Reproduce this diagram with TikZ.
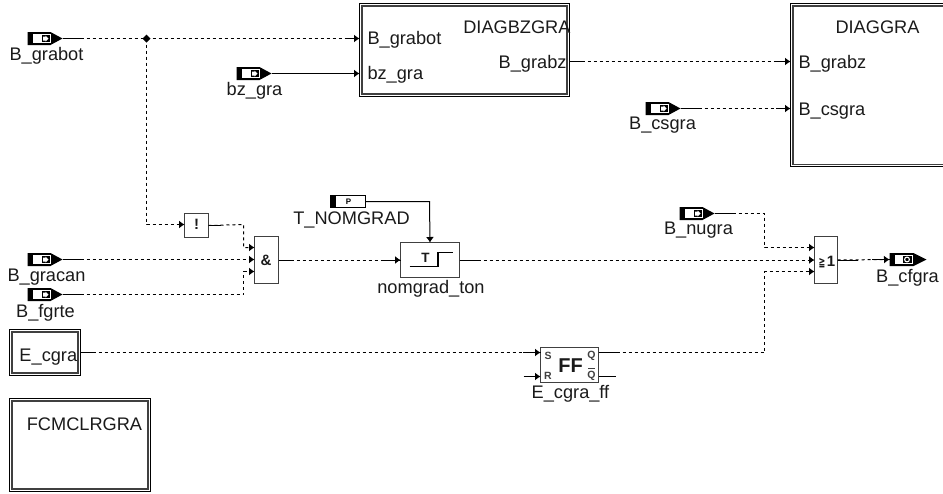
\documentclass[tikz,border=0pt]{standalone}
\usepackage{fontspec}
\setmainfont{Liberation Sans}
\newfontfamily\symfont{DejaVu Sans}
\usetikzlibrary{arrows.meta,calc}
\definecolor{inkc}{HTML}{1A1A1A}
\definecolor{boxc}{HTML}{404040}
\newcommand{\lbl}{\fontsize{18.2}{20}\selectfont}
\tikzset{
  x=1pt,y=-1pt,
  every node/.style={inner sep=0pt,outer sep=0pt,text=inkc},
  txt/.style={font=\lbl,anchor=center},
  sig/.style={line width=1pt,draw=black,dash pattern=on 3pt off 3pt,-{Latex[length=5.5pt,width=8pt]}},
  sigend/.style={line width=1pt,draw=black,dash pattern=on 3pt off 3pt},
  stub/.style={line width=1pt,draw=black},
  plain/.style={line width=1pt,draw=black,-{Latex[length=5.5pt,width=8pt]}},
  logicbox/.style={draw=boxc,line width=1.2pt,fill=white,minimum width=#1,anchor=north west},
  dblinner/.style={draw=boxc,line width=1.5pt},
  portbody/.style={minimum width=35pt,minimum height=12pt,anchor=west},
  ffpin/.style={font=\bfseries\fontsize{10.5}{10.5}\selectfont,text=boxc},
}
% input port: name, left x, centre y
\newcommand{\inport}[3]{%
  \node[portbody] (#1) at (#2,#3) {};
  \fill[black] (#2,#3-6.5) -- ++(23,0) -- (#2+35,#3) -- (#2+23,#3+6.5) -- (#2,#3+6.5) -- cycle;
  \fill[white] (#2+5.5,#3-4.5) rectangle (#2+23,#3+4.5);
  \fill[black] (#2+14,#3-3.8) rectangle (#2+22,#3+3.8);
  \fill[white] (#2+15.5,#3-2) -- ++(2.5,0) -- ++(0,-1) -- (#2+21,#3) -- (#2+18,#3+3) -- ++(0,-1) -- ++(-2.5,0) -- cycle;
}
\begin{document}
\begin{tikzpicture}
\useasboundingbox (0,0) rectangle (943,493);
\clip (0,0) rectangle (943,493);
\begin{scope}[shift={(0.5,0.5)}]

% double-frame blocks
\node[draw=black,line width=1pt,minimum width=210pt,minimum height=93pt,anchor=north west] (diagbz) at (359,3) {};
\draw[dblinner] (361.5,5.5) rectangle (566.5,93.5);
\node[draw=black,line width=1pt,minimum width=170pt,minimum height=163pt,anchor=north west] (diaggra) at (790,3) {};
\draw[dblinner] (792.5,5.5) rectangle (957,164);
\node[draw=black,line width=1pt,minimum width=71pt,minimum height=46pt,anchor=north west] (ecgra) at (9,329) {};
\draw[dblinner] (11.5,331.5) rectangle (77.5,372.5);
\node[draw=black,line width=1pt,minimum width=141pt,minimum height=93pt,anchor=north west] (fcm) at (9,398) {};
\draw[dblinner] (11.5,400.5) rectangle (147.5,488.5);

% logic blocks
\node[logicbox=24pt,minimum height=24pt] (notb) at (184,213) {};
\node[logicbox=24pt,minimum height=47pt] (andb) at (254,236) {};
\node[logicbox=59pt,minimum height=35pt] (ton) at (400,242) {};
\node[logicbox=58pt,minimum height=35pt] (ffb) at (540,347) {};
\node[logicbox=23pt,minimum height=47pt] (orb) at (814,236) {};

% ports
\inport{pgrabot}{27}{38}
\inport{pbzgra}{236}{73}
\inport{pcsgra}{645}{108}
\inport{pgracan}{27}{259}
\inport{pfgrte}{27}{294}
\inport{pnugra}{679}{213}

% parameter port
\node[portbody] (pnom) at (330,201) {};
\draw[black,line width=1pt,fill=white] (330,195) rectangle (365,207);
\fill[black] (330,195) rectangle (335,207);
\node[font=\bfseries\fontsize{8}{8}\selectfont,text=black] (pnomicon) at (348,201) {P};

% output port
\node[portbody] (pcfgra) at (889,259) {};
\fill[black] (889,252.5) -- ++(24,0) -- (926,259) -- (913,265.5) -- (889,265.5) -- cycle;
\fill[white] (894,254.5) rectangle (912,263.5);
\fill[black] (902,255.2) rectangle (911,262.8);
\draw[white,line width=1.1pt] (906.5,259) circle (2.4pt);

% junction and bends
\coordinate (jn) at (146,38);
\coordinate (nb) at (146,224);
\coordinate (a1) at (243,224);
\coordinate (a2) at (243,247);
\coordinate (a3) at (243,294);
\coordinate (a4) at (243,271);
\coordinate (o1) at (764,213);
\coordinate (o2) at (764,247);
\coordinate (o3) at (764,352);
\coordinate (o4) at (764,271);
\coordinate (nomb) at (429,201);
\coordinate (rin) at (523,376);
\coordinate (qbar) at (615,376);

% connectors
\draw[sigend] (pgrabot.east) -- (jn);
\draw[sig] (jn) -- (jn -| diagbz.west);
\draw[sig] (jn) -- (nb) -- (nb -| notb.west);
\draw[plain] (pbzgra.east) -- (pbzgra.east -| diagbz.west);
\draw[sig] (diagbz.east |- 0,61) -- (diaggra.west |- 0,61);
\draw[sig] (pcsgra.east) -- (pcsgra.east -| diaggra.west);
\draw[sig] (notb.east) -- (a1) -- (a2) -- (a2 -| andb.west);
\draw[sig] (pgracan.east) -- (pgracan.east -| andb.west);
\draw[sig] (pfgrte.east) -- (a3) -- (a4) -- (a4 -| andb.west);
\draw[sig] (andb.east) -- (andb.east -| ton.west);
\draw[plain] (pnom.east) -- (nomb) -- (ton.north);
\draw[sig] (ton.east |- andb.east) -- (andb.east -| orb.west);
\draw[sig] (pnugra.east) -- (o1) -- (o2) -- (o2 -| orb.west);
\draw[sig] (ecgra.east |- 0,352) -- (ffb.west |- 0,352);
\draw[plain] (rin) -- (rin -| ffb.west);
\draw[sig] (ffb.east |- 0,352) -- (o3) -- (o4) -- (o4 -| orb.west);
\draw[stub] (ffb.east |- 0,376) -- (qbar);
\draw[sig] (orb.east |- andb.east) -- (pcfgra.west);

% solid stubs over the dashed lines
\draw[stub] (pgrabot.east) -- ++(19,0);
\draw[stub] (pcsgra.east) -- ++(19,0);
\draw[stub] (pgracan.east) -- ++(19,0);
\draw[stub] (pfgrte.east) -- ++(19,0);
\draw[stub] (pnugra.east) -- ++(19,0);
\draw[stub] (notb.east) -- ++(12,0);
\draw[stub] (ton.east |- andb.east) -- ++(20,0);
\draw[stub] (ton.west |- andb.east) -- ++(-18,0);
\draw[stub] (andb.east) -- ++(12,0);
\draw[stub] (ffb.east |- 0,352) -- ++(20,0);
\draw[stub] (ffb.west |- 0,352) -- ++(-18,0);
\draw[stub] (orb.east |- andb.east) -- ++(20,0);
\draw[stub] (pcfgra.west) -- ++(-18,0);
\draw[stub] (diagbz.east |- 0,61) -- ++(15,0);
\draw[stub] (ecgra.east |- 0,352) -- ++(12,0);
\draw[stub] (diagbz.west |- jn) -- ++(-15,0);
\draw[stub] (diaggra.west |- 0,61) -- ++(-15,0);
\draw[stub] (diaggra.west |- 0,108) -- ++(-15,0);

% junction dot
\fill[black] (146,34) -- (150,38) -- (146,42) -- (142,38) -- cycle;

% port labels
\node[txt] (tgrabot) at (46,55) {B\_grabot};
\node[txt] (tbzgra) at (254,90) {bz\_gra};
\node[txt] (tcsgra) at (662,125) {B\_csgra};
\node[txt] (tgracan) at (46,277) {B\_gracan};
\node[txt] (tfgrte) at (45,312) {B\_fgrte};
\node[txt] (tnom) at (351,219) {T\_NOMGRAD};
\node[txt] (tton) at (430.5,288) {nomgrad\_ton};
\node[txt] (tnugra) at (698,230) {B\_nugra};
\node[txt] (tcfgra) at (907,277) {B\_cfgra};
\node[txt] (tff) at (570,393) {E\_cgra\_ff};

% block texts
\node[txt,anchor=base west] (i1) at (367,44) {B\_grabot};
\node[txt,anchor=base west] (i2) at (367,79) {bz\_gra};
\node[txt,anchor=base east] (i3) at (570,33) {DIAGBZGRA};
\node[txt,anchor=base east] (i4) at (566,68) {B\_grabz};
\node[txt,anchor=base] (i5) at (877,33) {DIAGGRA};
\node[txt,anchor=base west] (i6) at (798,68) {B\_grabz};
\node[txt,anchor=base west] (i7) at (798,115) {B\_csgra};
\node[txt,anchor=base west] (i8) at (19,361) {E\_cgra};
\node[txt,anchor=base] (i9) at (84,430) {FCMCLRGRA};

% logic symbols
\node[font=\bfseries\fontsize{15}{15}\selectfont] (snot) at (196,224) {!};
\node[font=\bfseries\fontsize{15}{15}\selectfont] (sand) at (265.5,259.5) {\&};
\node[anchor=base,font=\bfseries\fontsize{15}{15}\selectfont] (sor) at (826.5,265.5) {\scalebox{.62}[1]{\symfont\fontsize{13}{13}\selectfont\bfseries ≧}\hspace{1.5pt}1};
\node[font=\bfseries\fontsize{20}{20}\selectfont] (sff) at (570,365) {FF};
\node[ffpin] (ss) at (547.5,355) {S};
\node[ffpin] (sr) at (547.5,375) {R};
\node[ffpin] (sq) at (591,355) {Q};
\node[ffpin] (sqb) at (591,375) {Q};
\draw[boxc,line width=.9pt] (587.5,367.5) -- (594.5,367.5);
% timer symbol
\node[font=\bfseries\fontsize{13.5}{13.5}\selectfont] (stt) at (425,257.5) {T};
\draw[black,line width=1.6pt] (409,266) -- (437.5,266) -- (437.5,252) -- (452,252);
\end{scope}
\end{tikzpicture}
\end{document}
